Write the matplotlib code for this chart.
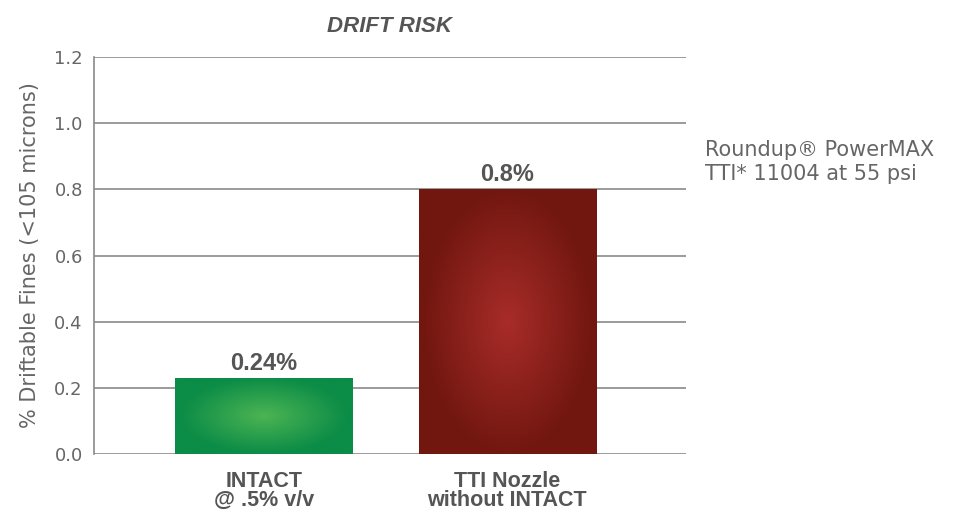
import numpy as np
import matplotlib.pyplot as plt
from matplotlib.colors import LinearSegmentedColormap
from matplotlib.patches import Rectangle

# datos del grafico
categories = ['INTACT\n@ .5% v/v', 'TTI Nozzle\nwithout INTACT']
values = [0.23, 0.80]
value_labels = ['0.24%', '0.8%']
yticks = [0.0, 0.2, 0.4, 0.6, 0.8, 1.0, 1.2]
note_lines = ['Roundup\u00ae PowerMAX', 'TTI* 11004 at 55 psi']

# colores del degradado (centro, borde)
bar_colors = [('#4cb453', '#0b8c47'), ('#a82c29', '#721710')]

fig = plt.figure(figsize=(9.54, 5.14), dpi=100)
ax = fig.add_axes([0.0985, 0.1167, 0.6205, 0.7723])

gray = '#666666'
width = 0.73

# degradado radial para cada barra
yy, xx = np.mgrid[-1:1:200j, -1:1:200j]
for i, (v, (c_in, c_out)) in enumerate(zip(values, bar_colors)):
    cmap = LinearSegmentedColormap.from_list('g%d' % i, [c_in, c_out])
    r = np.sqrt((xx / 0.95) ** 2 + (yy / 1.0) ** 2)
    r = np.clip(r, 0, 1)
    x0, x1 = i - width / 2, i + width / 2
    im = ax.imshow(r, cmap=cmap, extent=(x0, x1, 0, v), aspect='auto',
                   origin='upper', zorder=3, vmin=0, vmax=1)
    clip = Rectangle((x0, 0), width, v, transform=ax.transData)
    im.set_clip_path(clip)
    ax.text(i, v + 0.01, value_labels[i], ha='center', va='bottom',
            fontsize=17, fontweight='bold', color='#555555',
            family='Liberation Sans', zorder=4)

ax.set_xlim(-0.70, 1.735)
ax.set_ylim(0, 1.2)
ax.set_yticks(yticks)
ax.set_yticklabels(['%.1f' % t for t in yticks], fontsize=13, color=gray)
ax.tick_params(axis='y', length=0, pad=8)
ax.set_xticks(range(len(categories)))
ax.set_xticklabels(categories, fontsize=15.5, fontweight='bold', color='#555555',
                   family='Liberation Sans', linespacing=0.9)
ax.tick_params(axis='x', length=0, pad=12)
ax.grid(axis='y', color='#8a8a8a', linewidth=1.2, zorder=1)
ax.set_axisbelow(True)
for s in ['top', 'right', 'bottom']:
    ax.spines[s].set_visible(False)
ax.spines['left'].set_color('#8a8a8a')
ax.spines['left'].set_linewidth(1.2)

ax.set_ylabel('% Driftable Fines (<105 microns)', fontsize=15, color=gray, labelpad=10)
ax.set_title('DRIFT RISK', fontsize=16, fontweight='bold', style='italic',
             color='#555555', family='Liberation Sans', pad=18)

fig.text(0.739, 0.685, '\n'.join(note_lines), fontsize=15, color=gray,
         va='center', ha='left', linespacing=1.2)

fig.savefig('out.png', dpi=100)
